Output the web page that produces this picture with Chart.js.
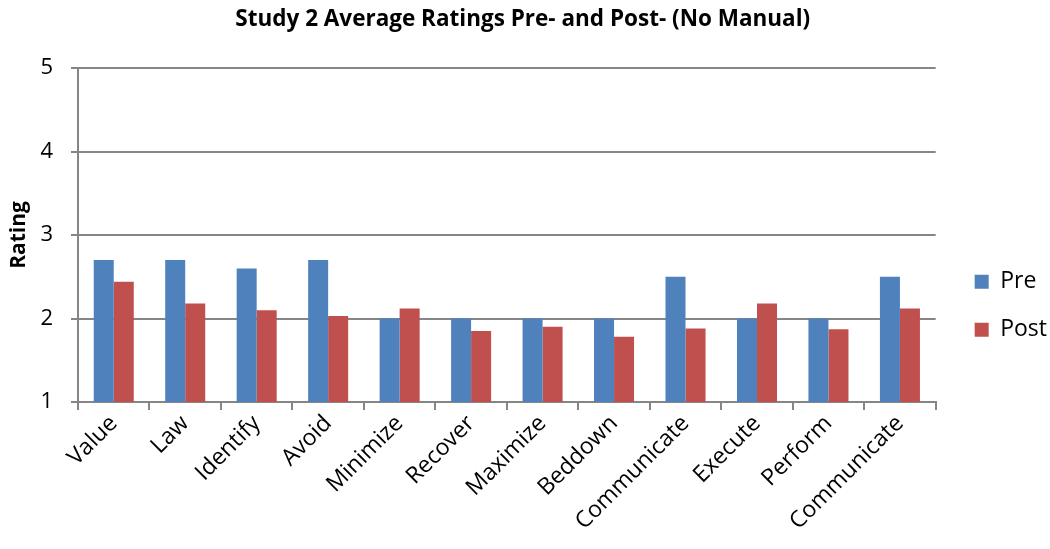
<!DOCTYPE html>
<html lang="en">
<head>
    <meta charset="UTF-8">
    <title>Study 2 Average Ratings</title>
    <style>
        body, html {
            margin: 0;
            padding: 0;
            background: #fff;
        }
        .chart-container {
            width: 1050px;
            height: 549px;
        }
    </style>
    <script src="https://cdn.jsdelivr.net/npm/chart.js"></script>
</head>
<body>
    <div class="chart-container">
        <canvas id="ratingChart"></canvas>
    </div>
    <script>
        const categories = ['Value', 'Law', 'Identify', 'Avoid', 'Minimize', 'Recover',
            'Maximize', 'Beddown', 'Communicate', 'Execute', 'Perform', 'Communicate'];
        const preRatings = [2.7, 2.7, 2.6, 2.7, 2.0, 2.0, 2.0, 2.0, 2.5, 2.0, 2.0, 2.5];
        const postRatings = [2.44, 2.18, 2.1, 2.03, 2.12, 1.85, 1.9, 1.78, 1.88, 2.18, 1.87, 2.12];
        const yTicks = [1, 2, 3, 4, 5];

        const fontFamily = '"Open Sans", Lato, sans-serif';
        const gridColor = '#868686';

        const ctx = document.getElementById('ratingChart').getContext('2d');
        const ratingChart = new Chart(ctx, {
            type: 'bar',
            data: {
                labels: categories,
                datasets: [{
                    label: 'Pre',
                    data: preRatings,
                    backgroundColor: '#4F81BD',
                    borderWidth: 0
                }, {
                    label: 'Post',
                    data: postRatings,
                    backgroundColor: '#C0504D',
                    borderWidth: 0
                }]
            },
            options: {
                responsive: true,
                maintainAspectRatio: false,
                animation: false,
                layout: {
                    padding: { left: 6, right: -7, top: 0, bottom: 0 }
                },
                datasets: {
                    bar: {
                        categoryPercentage: 0.56,
                        barPercentage: 1.0
                    }
                },
                plugins: {
                    title: {
                        display: true,
                        // trailing spaces nudge the centred title a little to the left
                        text: 'Study 2 Average Ratings Pre- and Post- (No Manual)   ',
                        color: '#000',
                        font: { family: fontFamily, size: 22.5, weight: 'bold' },
                        padding: { top: 6, bottom: 35 }
                    },
                    legend: {
                        position: 'right',
                        title: {
                            display: true,
                            text: ' ',
                            font: { size: 2 },
                            padding: { top: 0, bottom: 60 }
                        },
                        labels: {
                            color: '#000',
                            boxWidth: 14,
                            boxHeight: 14,
                            padding: 25,
                            font: { family: fontFamily, size: 23 }
                        }
                    },
                    tooltip: { enabled: false }
                },
                scales: {
                    x: {
                        grid: {
                            display: true,
                            drawOnChartArea: false,
                            drawTicks: true,
                            tickLength: 8,
                            color: gridColor,
                            lineWidth: 2,
                            offset: true
                        },
                        border: { color: gridColor, width: 2 },
                        ticks: {
                            color: '#000',
                            font: { family: fontFamily, size: 23 },
                            minRotation: 45,
                            maxRotation: 45,
                            padding: 0
                        },
                        afterFit: (scale) => { scale.height = 147; }
                    },
                    y: {
                        min: 1,
                        max: 5,
                        afterBuildTicks: (scale) => {
                            scale.ticks = yTicks.map(v => ({ value: v }));
                        },
                        grid: {
                            color: gridColor,
                            lineWidth: 2,
                            tickLength: 7
                        },
                        border: { color: gridColor, width: 2 },
                        ticks: {
                            color: '#000',
                            font: { family: fontFamily, size: 22 },
                            padding: 18
                        },
                        title: {
                            display: true,
                            text: 'Rating',
                            color: '#000',
                            font: { family: fontFamily, size: 21, weight: 'bold' },
                            padding: 0
                        },
                        afterFit: (scale) => { scale.width = 72; }
                    },
                    // empty spacer between the plot and the legend
                    gap: {
                        type: 'linear',
                        position: 'right',
                        display: true,
                        grid: { display: false },
                        border: { display: false },
                        ticks: { display: false },
                        afterFit: (scale) => { scale.width = 14; }
                    }
                }
            }
        });
    </script>
</body>
</html>
